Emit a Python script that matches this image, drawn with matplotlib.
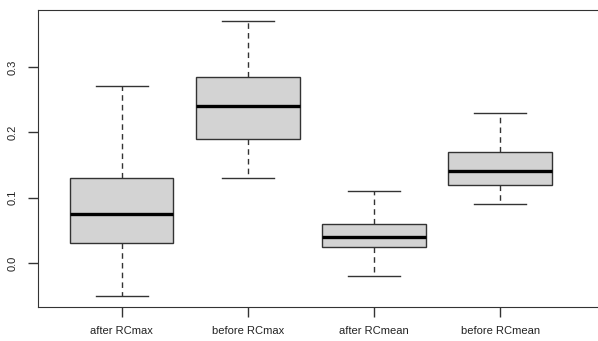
import matplotlib.pyplot as plt

plt.rcParams['font.family'] = ['Liberation Sans', 'DejaVu Sans']

# dados
grupos = ['after RCmax', 'before RCmax', 'after RCmean', 'before RCmean']
minimo = [-0.05, 0.13, -0.02, 0.09]
q1 = [0.03, 0.19, 0.025, 0.12]
mediana = [0.075, 0.24, 0.04, 0.14]
q3 = [0.13, 0.285, 0.06, 0.17]
maximo = [0.27, 0.37, 0.11, 0.23]

stats = []
for i in range(len(grupos)):
    stats.append({'label': grupos[i], 'whislo': minimo[i], 'q1': q1[i],
                  'med': mediana[i], 'q3': q3[i], 'whishi': maximo[i], 'fliers': []})

fig = plt.figure(figsize=(5.98, 3.41), dpi=100)
ax = fig.add_axes([38 / 598, 1 - 307 / 341, 1 - 38 / 598, (307 - 10) / 341])

ax.bxp(stats, positions=range(1, 5), widths=0.82, patch_artist=True,
       boxprops=dict(facecolor='#d3d3d3', edgecolor='#333333', linewidth=1),
       medianprops=dict(color='black', linewidth=2.4, solid_capstyle='butt'),
       whiskerprops=dict(color='#333333', linewidth=1, linestyle=(0, (4, 3))),
       capprops=dict(color='#333333', linewidth=1), capwidths=0.41)

ax.set_xlim(0.336, 4.776)
ax.set_ylim(-0.0673, 0.3869)
ax.set_yticks([0.0, 0.1, 0.2, 0.3])
ax.set_yticklabels(['0.0', '0.1', '0.2', '0.3'], rotation=90, va='center')
ax.set_xticks(range(1, 5))
ax.set_xticklabels(grupos)
ax.tick_params(axis='both', length=7, width=1, color='#333333', labelsize=8, labelcolor='#222222')
ax.tick_params(axis='x', pad=7)
ax.tick_params(axis='y', pad=8)
ax.spines['right'].set_visible(False)
for s in ['left', 'top', 'bottom']:
    ax.spines[s].set_color('#333333')

fig.savefig('out.png', dpi=100)
